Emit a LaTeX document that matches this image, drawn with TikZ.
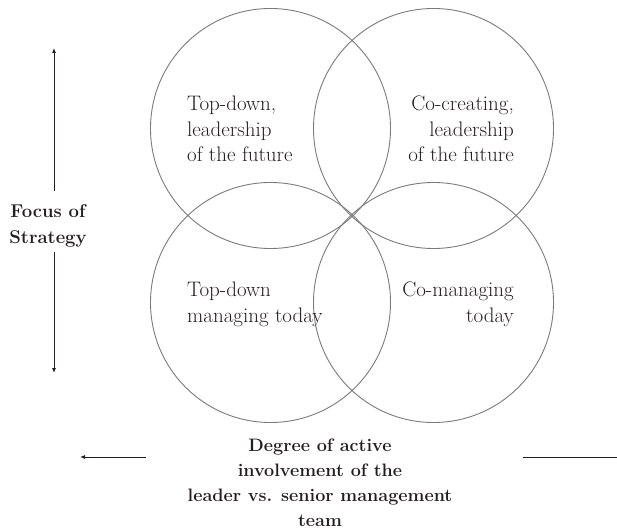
\documentclass[tikz,border=0pt]{standalone}
\usetikzlibrary{arrows.meta,calc}
\definecolor{ink}{HTML}{231F20}
\definecolor{ringcol}{HTML}{7A7A7A}
\begin{document}
\begin{tikzpicture}[x=1pt,y=-1pt,
  ring/.style={circle, draw=ringcol, line width=0.9pt, minimum size=240pt, inner sep=0pt},
  lbl/.style={inner sep=0pt, text=ink, font=\fontsize{21}{25.5}\selectfont},
  axislbl/.style={inner sep=0pt, text=ink, align=center, font=\fontsize{18}{25}\selectfont\bfseries},
  axis/.style={draw=ink, line width=0.8pt, -{Latex[length=5pt,width=4pt]}},
  plainaxis/.style={draw=ink, line width=0.8pt}
]
\useasboundingbox (0,0) rectangle (617,529);
\node[ring] (tl) at (270.5,128.5) {};
\node[ring] (tr) at (433.5,128.5) {};
\node[ring] (bl) at (270.5,302.5) {};
\node[ring] (br) at (433.5,302.5) {};

\node[lbl, align=left, anchor=base west] (ttl) at (187,162) {Top-down,\\leadership\\of the future};
\node[lbl, align=right, anchor=base east] (ttr) at (514,162) {Co-creating,\\leadership\\of the future};
\node[lbl, align=left, anchor=base west] (tbl) at (187,322) {Top-down\\managing today};
\node[lbl, align=right, anchor=base east] (tbr) at (514,322) {Co-managing\\today};

\node[axislbl, anchor=base, font=\fontsize{18.5}{26}\selectfont\bfseries] (focus) at (48,243) {Focus of\\Strategy};
\coordinate (vtop) at (54,48);
\coordinate (vbot) at (54,373);
\draw[axis] (54,191) -- (vtop);
\draw[axis] (54,252) -- (vbot);

\node[axislbl, anchor=base] (deg) at (320,526) {Degree of active\\involvement of the\\leader vs. senior management\\team};
\coordinate (hleft) at (80,457);
\coordinate (hright) at (617,457);
\draw[axis] (146,457) -- (hleft);
\draw[plainaxis] (523,457) -- (hright);
\end{tikzpicture}
\end{document}
